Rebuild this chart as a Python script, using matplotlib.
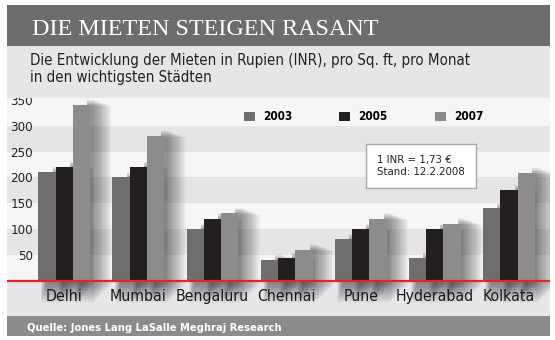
import matplotlib.pyplot as plt
from matplotlib.patches import Patch, Rectangle

# Mieten in INR pro Sq. ft pro Monat
cities = ['Delhi', 'Mumbai', 'Bengaluru', 'Chennai', 'Pune', 'Hyderabad', 'Kolkata']
years = ['2003', '2005', '2007']
rent_2003 = [210, 200, 100, 40, 80, 44, 140]
rent_2005 = [220, 220, 120, 44, 100, 100, 175]
rent_2007 = [340, 280, 130, 60, 120, 110, 208]
y_ticks = [50, 100, 150, 200, 250, 300, 350]

colors = ['#6e6e70', '#231f20', '#8c8c8c']
W, H = 555, 340

plt.rcParams['font.family'] = ['DejaVu Sans']
plt.rcParams['font.stretch'] = 'condensed'
sans = dict(family='DejaVu Sans', stretch='condensed')

fig = plt.figure(figsize=(W / 100, H / 100), dpi=100)
fig.patch.set_facecolor('white')


def fx(px):
    return px / W


def fy(py):
    return 1 - py / H


# Kopfbalken, Unterzeile und Quellenbalken
fig.patches.append(Rectangle((fx(7), fy(46)), fx(543), 41 / H, transform=fig.transFigure,
                             fc='#6d6d6d', ec='none', zorder=0))
fig.patches.append(Rectangle((fx(7), fy(98)), fx(543), 52 / H, transform=fig.transFigure,
                             fc='#e6e6e6', ec='none', zorder=0))
fig.patches.append(Rectangle((fx(7), fy(336)), fx(543), 20 / H, transform=fig.transFigure,
                             fc='#8b8b8b', ec='none', zorder=0))

fig.text(fx(32), fy(35), 'DIE MIETEN STEIGEN RASANT', family='Liberation Serif',
         fontsize=17.4, color='white', va='baseline', ha='left')
fig.text(fx(30), fy(65), 'Die Entwicklung der Mieten in Rupien (INR), pro Sq. ft, pro Monat',
         fontsize=10.8, color='#222222', va='baseline', ha='left', **sans)
fig.text(fx(30), fy(82), 'in den wichtigsten Städten',
         fontsize=10.8, color='#222222', va='baseline', ha='left', **sans)
fig.text(fx(27), fy(331), 'Quelle: Jones Lang LaSalle Meghraj Research', fontsize=8,
         fontweight='bold', color='white', va='baseline', ha='left', **sans)

ax = fig.add_axes([fx(7), fy(316), fx(543), (316 - 98) / H])
ax.set_xlim(-0.773, 6.555)
ax.set_ylim(-68.8, 353.7)
for s in ax.spines.values():
    s.set_visible(False)

# abwechselnde Hintergrundstreifen
ax.axhspan(-68.8, 0, color='#e7e7e7', lw=0, zorder=0)
for i, lo in enumerate(range(0, 350, 50)):
    top = 353.7 if lo == 300 else lo + 50
    ax.axhspan(lo, top, color='#f6f6f6' if i % 2 == 0 else '#e5e5e5', lw=0, zorder=0)

bw = 0.2335
px_x = 1 / 74.1
px_y = 1 / 0.516
x = list(range(len(cities)))
series = [rent_2003, rent_2005, rent_2007]

# weiche Schatten: rechts neben den Balken und unterhalb der Nulllinie
for k, vals in enumerate(series):
    for i, v in enumerate(vals):
        x0 = i + (k - 1.5) * bw
        for d in range(1, 13):
            right = x0 + bw + (2 + 1.6 * d) * px_x
            left = x0 + bw - 3 * px_x
            top = v + (6 - 0.6 * d) * px_y
            ax.add_patch(Rectangle((left, 0), right - left, top,
                                   fc='black', ec='none', alpha=0.04, zorder=1))
            left = x0 + (2 + 0.5 * d) * px_x
            bottom = -46 + d * 1.6 * px_y
            ax.add_patch(Rectangle((left, bottom), right - left, -bottom,
                                   fc='black', ec='none', alpha=0.04, zorder=1))

for k, vals in enumerate(series):
    ax.bar([i + (k - 1) * bw for i in x], vals, width=bw, color=colors[k], lw=0, zorder=3)

ax.axhline(0, color='#e3232c', lw=1.6, zorder=4)

ax.set_yticks(y_ticks)
ax.set_yticklabels([str(t) for t in y_ticks], fontsize=9.5, color='#222222', **sans)
ax.tick_params(axis='y', length=0, pad=-18.7)
ax.set_xticks([])

for i, c in enumerate(cities):
    ax.text(i, -39.7, c, fontsize=11.3, color='#1a1a1a', ha='center', va='baseline',
            zorder=5, **sans)

handles = [Patch(fc=c, ec='none') for c in colors]
ax.legend(handles, years, loc='center left', bbox_to_anchor=(fx(244), fy(117)),
          bbox_transform=fig.transFigure, ncol=3, frameon=False, handlelength=0.93,
          handleheight=0.85, handletextpad=0.68, columnspacing=4.0, borderpad=0,
          borderaxespad=0, prop=dict(weight='bold', size=8.5, **sans))

fig.text(fx(377), fy(166), '1 INR = 1,73 €\nStand: 12.2.2008', fontsize=8.2,
         color='#222222', ha='left', va='center', linespacing=1.3,
         bbox=dict(boxstyle='square,pad=0.95', fc='white', ec='#a8a8a8', lw=1), **sans)

fig.savefig('out.png', dpi=100)
